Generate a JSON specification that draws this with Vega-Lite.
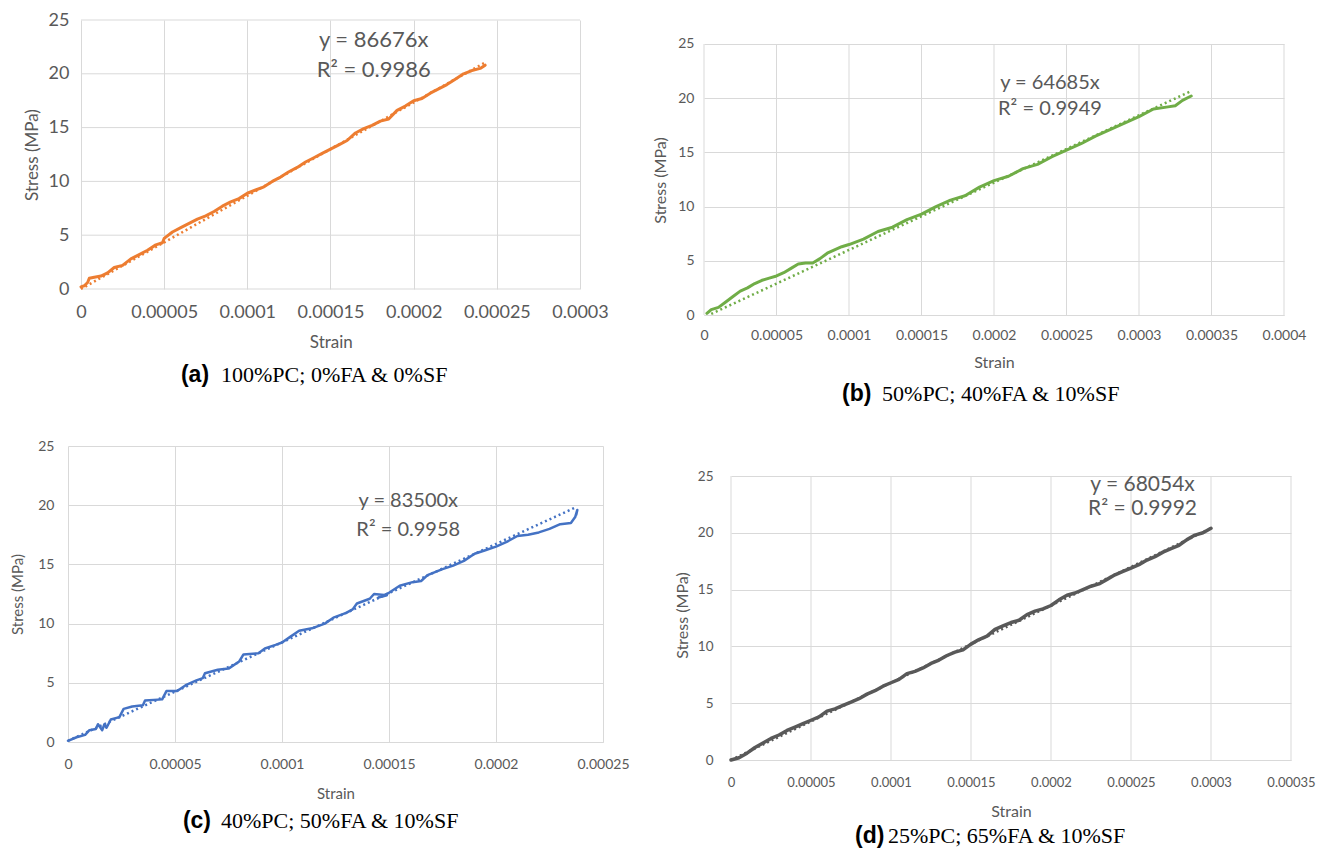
{
  "$schema": "https://vega.github.io/schema/vega-lite/v6.json",
  "padding": {"left": 10, "top": 11, "right": 0, "bottom": 0},
  "background": "white",
  "config": {
    "view": {"stroke": null},
    "font": "Lato",
    "axis": {"grid": true, "gridColor": "#d9d9d9", "gridWidth": 1, "ticks": false, "domain": false, "labelColor": "#595959", "titleColor": "#595959", "titleFontWeight": "normal", "labelFont": "Lato", "titleFont": "Lato", "labelFlush": false, "labelOverlap": false, "labelBound": false},
    "axisX": {"domain": true, "domainColor": "#d9d9d9"},
    "line": {"strokeJoin": "round", "strokeCap": "round"},
    "rule": {"color": "#d9d9d9", "strokeWidth": 1}
  },
  "datasets": {
    "a": [
      {"strain": 0, "stress": 0.2}, {"strain": 0.000002, "stress": 0.3}, {"strain": 0.000004, "stress": 0.6}, {"strain": 0.000005, "stress": 1.0}, {"strain": 0.000008, "stress": 1.1}, {"strain": 0.000012, "stress": 1.2}, {"strain": 0.000016, "stress": 1.5}, {"strain": 0.00002, "stress": 2.0}, {"strain": 0.000025, "stress": 2.2}, {"strain": 0.00003, "stress": 2.8}, {"strain": 0.000035, "stress": 3.2}, {"strain": 0.00004, "stress": 3.6}, {"strain": 0.000045, "stress": 4.1}, {"strain": 0.000049, "stress": 4.3}, {"strain": 0.00005, "stress": 4.7}, {"strain": 0.000055, "stress": 5.3}, {"strain": 0.00006, "stress": 5.7}, {"strain": 0.000065, "stress": 6.1}, {"strain": 0.00007, "stress": 6.5}, {"strain": 0.000075, "stress": 6.8}, {"strain": 0.00008, "stress": 7.2}, {"strain": 0.000085, "stress": 7.7}, {"strain": 0.00009, "stress": 8.1}, {"strain": 0.000095, "stress": 8.4}, {"strain": 0.0001, "stress": 8.9}, {"strain": 0.000105, "stress": 9.2}, {"strain": 0.00011, "stress": 9.5}, {"strain": 0.000115, "stress": 10.0}, {"strain": 0.00012, "stress": 10.4}, {"strain": 0.000125, "stress": 10.9}, {"strain": 0.00013, "stress": 11.3}, {"strain": 0.000135, "stress": 11.8}, {"strain": 0.00014, "stress": 12.2}, {"strain": 0.000145, "stress": 12.6}, {"strain": 0.00015, "stress": 13.0}, {"strain": 0.000155, "stress": 13.4}, {"strain": 0.00016, "stress": 13.8}, {"strain": 0.000165, "stress": 14.5}, {"strain": 0.00017, "stress": 14.9}, {"strain": 0.000175, "stress": 15.2}, {"strain": 0.00018, "stress": 15.6}, {"strain": 0.000185, "stress": 15.8}, {"strain": 0.00019, "stress": 16.6}, {"strain": 0.000195, "stress": 17.0}, {"strain": 0.0002, "stress": 17.5}, {"strain": 0.000205, "stress": 17.7}, {"strain": 0.00021, "stress": 18.2}, {"strain": 0.000215, "stress": 18.6}, {"strain": 0.00022, "stress": 19.0}, {"strain": 0.000225, "stress": 19.5}, {"strain": 0.00023, "stress": 20.0}, {"strain": 0.000235, "stress": 20.3}, {"strain": 0.00024, "stress": 20.5}, {"strain": 0.000243, "stress": 20.8}
    ],
    "a_trend": [{"strain": 0, "stress": 0}, {"strain": 0.000243, "stress": 21.06}],
    "a_eq": [{"strain": 0.000176, "stress": 23.1, "label": "y = 86676x"}, {"strain": 0.000176, "stress": 20.35, "label": "R² = 0.9986"}],
    "a_tag": [{"strain": 0.0000601, "stress": -8.64, "label": "(a)"}],
    "a_cap": [{"strain": 0.0000842, "stress": -8.64, "label": "100%PC; 0%FA & 0%SF"}],
    "a_grid": [{"stress": 0, "x0": 0, "x1": 0.0003}, {"stress": 5, "x0": 0, "x1": 0.0003}, {"stress": 10, "x0": 0, "x1": 0.0003}, {"stress": 15, "x0": 0, "x1": 0.0003}, {"stress": 20, "x0": 0, "x1": 0.0003}, {"stress": 25, "x0": 0, "x1": 0.0003}],
    "b": [
      {"strain": 0.000002, "stress": 0.15}, {"strain": 0.000005, "stress": 0.5}, {"strain": 0.00001, "stress": 0.7}, {"strain": 0.000015, "stress": 1.2}, {"strain": 0.00002, "stress": 1.7}, {"strain": 0.000025, "stress": 2.2}, {"strain": 0.00003, "stress": 2.5}, {"strain": 0.000035, "stress": 2.9}, {"strain": 0.00004, "stress": 3.2}, {"strain": 0.000045, "stress": 3.4}, {"strain": 0.00005, "stress": 3.6}, {"strain": 0.000055, "stress": 3.9}, {"strain": 0.00006, "stress": 4.3}, {"strain": 0.000065, "stress": 4.7}, {"strain": 0.00007, "stress": 4.8}, {"strain": 0.000075, "stress": 4.8}, {"strain": 0.00008, "stress": 5.2}, {"strain": 0.000085, "stress": 5.7}, {"strain": 0.00009, "stress": 6.0}, {"strain": 0.000095, "stress": 6.3}, {"strain": 0.0001, "stress": 6.5}, {"strain": 0.00011, "stress": 7.0}, {"strain": 0.00012, "stress": 7.7}, {"strain": 0.00013, "stress": 8.1}, {"strain": 0.00014, "stress": 8.8}, {"strain": 0.00015, "stress": 9.3}, {"strain": 0.00016, "stress": 10.0}, {"strain": 0.00017, "stress": 10.6}, {"strain": 0.00018, "stress": 11.0}, {"strain": 0.00019, "stress": 11.8}, {"strain": 0.0002, "stress": 12.4}, {"strain": 0.00021, "stress": 12.8}, {"strain": 0.00022, "stress": 13.5}, {"strain": 0.00023, "stress": 13.9}, {"strain": 0.00024, "stress": 14.6}, {"strain": 0.00025, "stress": 15.2}, {"strain": 0.00026, "stress": 15.8}, {"strain": 0.00027, "stress": 16.5}, {"strain": 0.00028, "stress": 17.1}, {"strain": 0.00029, "stress": 17.7}, {"strain": 0.0003, "stress": 18.3}, {"strain": 0.00031, "stress": 19.0}, {"strain": 0.00032, "stress": 19.2}, {"strain": 0.000325, "stress": 19.3}, {"strain": 0.00033, "stress": 19.8}, {"strain": 0.000336, "stress": 20.2}
    ],
    "b_trend": [{"strain": 0.000005, "stress": 0.1}, {"strain": 0.000335, "stress": 20.6}],
    "b_eq": [{"strain": 0.0002386, "stress": 21.4, "label": "y = 64685x"}, {"strain": 0.0002386, "stress": 19.0, "label": "R² = 0.9949"}],
    "b_tag": [{"strain": 0.0000952, "stress": -7.93, "label": "(b)"}],
    "b_cap": [{"strain": 0.0001228, "stress": -7.93, "label": "50%PC; 40%FA & 10%SF"}],
    "b_grid": [{"strain": 0, "y0": 0, "y1": 25}, {"strain": 0.00005, "y0": 0, "y1": 25}, {"strain": 0.0001, "y0": 0, "y1": 25}, {"strain": 0.00015, "y0": 0, "y1": 25}, {"strain": 0.0002, "y0": 0, "y1": 25}, {"strain": 0.00025, "y0": 0, "y1": 25}, {"strain": 0.0003, "y0": 0, "y1": 25}, {"strain": 0.00035, "y0": 0, "y1": 25}, {"strain": 0.0004, "y0": 0, "y1": 25}],
    "c": [
      {"i": 1, "strain": 0, "stress": 0.1}, {"i": 2, "strain": 0.000004, "stress": 0.4}, {"i": 3, "strain": 0.000008, "stress": 0.6}, {"i": 4, "strain": 0.00001, "stress": 1.0}, {"i": 5, "strain": 0.000013, "stress": 1.1}, {"i": 6, "strain": 0.000014, "stress": 1.5}, {"i": 7, "strain": 0.000016, "stress": 1.0}, {"i": 8, "strain": 0.000017, "stress": 1.5}, {"i": 9, "strain": 0.000018, "stress": 1.2}, {"i": 10, "strain": 0.00002, "stress": 1.9}, {"i": 11, "strain": 0.000024, "stress": 2.1}, {"i": 12, "strain": 0.000026, "stress": 2.8}, {"i": 13, "strain": 0.00003, "stress": 3.0}, {"i": 14, "strain": 0.000035, "stress": 3.1}, {"i": 15, "strain": 0.000036, "stress": 3.5}, {"i": 16, "strain": 0.000044, "stress": 3.6}, {"i": 17, "strain": 0.000046, "stress": 4.3}, {"i": 18, "strain": 0.000051, "stress": 4.3}, {"i": 19, "strain": 0.000055, "stress": 4.8}, {"i": 20, "strain": 0.00006, "stress": 5.2}, {"i": 21, "strain": 0.000063, "stress": 5.4}, {"i": 22, "strain": 0.000064, "stress": 5.8}, {"i": 23, "strain": 0.00007, "stress": 6.1}, {"i": 24, "strain": 0.000075, "stress": 6.2}, {"i": 25, "strain": 0.00008, "stress": 6.8}, {"i": 26, "strain": 0.000082, "stress": 7.4}, {"i": 27, "strain": 0.000089, "stress": 7.5}, {"i": 28, "strain": 0.000092, "stress": 7.9}, {"i": 29, "strain": 0.000097, "stress": 8.2}, {"i": 30, "strain": 0.0001, "stress": 8.4}, {"i": 31, "strain": 0.000104, "stress": 8.9}, {"i": 32, "strain": 0.000108, "stress": 9.4}, {"i": 33, "strain": 0.000114, "stress": 9.6}, {"i": 34, "strain": 0.00012, "stress": 10.0}, {"i": 35, "strain": 0.000124, "stress": 10.5}, {"i": 36, "strain": 0.00013, "stress": 10.9}, {"i": 37, "strain": 0.000133, "stress": 11.2}, {"i": 38, "strain": 0.000135, "stress": 11.7}, {"i": 39, "strain": 0.000141, "stress": 12.1}, {"i": 40, "strain": 0.000143, "stress": 12.5}, {"i": 41, "strain": 0.000149, "stress": 12.4}, {"i": 42, "strain": 0.000145, "stress": 12.2}, {"i": 43, "strain": 0.00015, "stress": 12.6}, {"i": 44, "strain": 0.000155, "stress": 13.2}, {"i": 45, "strain": 0.000161, "stress": 13.5}, {"i": 46, "strain": 0.000165, "stress": 13.6}, {"i": 47, "strain": 0.000168, "stress": 14.1}, {"i": 48, "strain": 0.000175, "stress": 14.6}, {"i": 49, "strain": 0.00018, "stress": 14.9}, {"i": 50, "strain": 0.000185, "stress": 15.3}, {"i": 51, "strain": 0.00019, "stress": 15.9}, {"i": 52, "strain": 0.000195, "stress": 16.2}, {"i": 53, "strain": 0.0002, "stress": 16.5}, {"i": 54, "strain": 0.000205, "stress": 16.9}, {"i": 55, "strain": 0.00021, "stress": 17.4}, {"i": 56, "strain": 0.000215, "stress": 17.5}, {"i": 57, "strain": 0.00022, "stress": 17.7}, {"i": 58, "strain": 0.000225, "stress": 18.0}, {"i": 59, "strain": 0.00023, "stress": 18.4}, {"i": 60, "strain": 0.000235, "stress": 18.5}, {"i": 61, "strain": 0.000237, "stress": 19.0}, {"i": 62, "strain": 0.000238, "stress": 19.6}, {"i": 63, "strain": 0.0002375, "stress": 19.2}
    ],
    "c_trend": [{"strain": 0, "stress": 0.1}, {"strain": 0.000237, "stress": 19.8}],
    "c_eq": [{"strain": 0.000159, "stress": 20.35, "label": "y = 83500x"}, {"strain": 0.000159, "stress": 17.9, "label": "R² = 0.9958"}],
    "c_tag": [{"strain": 0.0000537, "stress": -7.26, "label": "(c)"}],
    "c_cap": [{"strain": 0.0000715, "stress": -7.26, "label": "40%PC; 50%FA & 10%SF"}],
    "d": [
      {"strain": 0, "stress": 0}, {"strain": 0.000005, "stress": 0.2}, {"strain": 0.00001, "stress": 0.6}, {"strain": 0.000015, "stress": 1.1}, {"strain": 0.00002, "stress": 1.5}, {"strain": 0.000025, "stress": 1.9}, {"strain": 0.00003, "stress": 2.2}, {"strain": 0.000035, "stress": 2.6}, {"strain": 0.00004, "stress": 2.9}, {"strain": 0.000045, "stress": 3.2}, {"strain": 0.00005, "stress": 3.5}, {"strain": 0.000055, "stress": 3.8}, {"strain": 0.00006, "stress": 4.3}, {"strain": 0.000065, "stress": 4.5}, {"strain": 0.00007, "stress": 4.8}, {"strain": 0.000075, "stress": 5.1}, {"strain": 0.00008, "stress": 5.4}, {"strain": 0.000085, "stress": 5.8}, {"strain": 0.00009, "stress": 6.1}, {"strain": 0.000095, "stress": 6.5}, {"strain": 0.0001, "stress": 6.8}, {"strain": 0.000105, "stress": 7.1}, {"strain": 0.00011, "stress": 7.6}, {"strain": 0.000115, "stress": 7.8}, {"strain": 0.00012, "stress": 8.1}, {"strain": 0.000125, "stress": 8.5}, {"strain": 0.00013, "stress": 8.8}, {"strain": 0.000135, "stress": 9.2}, {"strain": 0.00014, "stress": 9.5}, {"strain": 0.000145, "stress": 9.7}, {"strain": 0.00015, "stress": 10.2}, {"strain": 0.000155, "stress": 10.6}, {"strain": 0.00016, "stress": 10.9}, {"strain": 0.000165, "stress": 11.5}, {"strain": 0.00017, "stress": 11.8}, {"strain": 0.000175, "stress": 12.1}, {"strain": 0.00018, "stress": 12.3}, {"strain": 0.000185, "stress": 12.8}, {"strain": 0.00019, "stress": 13.1}, {"strain": 0.000195, "stress": 13.3}, {"strain": 0.0002, "stress": 13.6}, {"strain": 0.000205, "stress": 14.1}, {"strain": 0.00021, "stress": 14.5}, {"strain": 0.000215, "stress": 14.7}, {"strain": 0.00022, "stress": 15.0}, {"strain": 0.000225, "stress": 15.3}, {"strain": 0.00023, "stress": 15.5}, {"strain": 0.000235, "stress": 15.9}, {"strain": 0.00024, "stress": 16.3}, {"strain": 0.000245, "stress": 16.6}, {"strain": 0.00025, "stress": 16.9}, {"strain": 0.000255, "stress": 17.2}, {"strain": 0.00026, "stress": 17.6}, {"strain": 0.000265, "stress": 17.9}, {"strain": 0.00027, "stress": 18.3}, {"strain": 0.000275, "stress": 18.6}, {"strain": 0.00028, "stress": 18.9}, {"strain": 0.000285, "stress": 19.4}, {"strain": 0.00029, "stress": 19.8}, {"strain": 0.000295, "stress": 20.0}, {"strain": 0.0003, "stress": 20.4}
    ],
    "d_trend": [{"strain": 0, "stress": 0}, {"strain": 0.0003, "stress": 20.4}],
    "d_eq": [{"strain": 0.0002572, "stress": 24.2, "label": "y = 68054x"}, {"strain": 0.0002572, "stress": 22.1, "label": "R² = 0.9992"}],
    "d_tag": [{"strain": 0.0000775, "stress": -7.31, "label": "(d)"}],
    "d_cap": [{"strain": 0.0000981, "stress": -7.31, "label": "25%PC; 65%FA & 10%SF"}],
    "d_grid": [{"strain": 0, "y0": 0, "y1": 25}, {"strain": 0.00005, "y0": 0, "y1": 25}, {"strain": 0.0001, "y0": 0, "y1": 25}, {"strain": 0.00015, "y0": 0, "y1": 25}, {"strain": 0.0002, "y0": 0, "y1": 25}, {"strain": 0.00025, "y0": 0, "y1": 25}, {"strain": 0.0003, "y0": 0, "y1": 25}, {"strain": 0.00035, "y0": 0, "y1": 25}]
  },
  "concat": [
    {
      "concat": [
        {
          "width": 512, "height": 269,
          "encoding": {
            "x": {"field": "strain", "type": "quantitative", "scale": {"domain": [-0.0000078, 0.0003], "nice": false, "zero": false}, "axis": {"title": "Strain", "values": [0, 0.00005, 0.0001, 0.00015, 0.0002, 0.00025, 0.0003], "format": "~f", "domain": false, "labelFontSize": 18, "labelPadding": 14, "titleFontSize": 17, "titlePadding": 13, "titleX": 262.8}},
            "y": {"field": "stress", "type": "quantitative", "scale": {"domain": [0, 25], "nice": false}, "axis": {"title": "Stress (MPa)", "values": [0, 5, 10, 15, 20, 25], "grid": false, "labelFontSize": 18, "labelPadding": -1, "titleFontSize": 17, "titlePadding": 7}}
          },
          "layer": [
            {"data": {"name": "a_grid"}, "mark": {"type": "rule"}, "encoding": {"x": {"field": "x0", "type": "quantitative", "title": "Strain"}, "x2": {"field": "x1"}}},
            {"data": {"name": "a"}, "mark": {"type": "line", "color": "#ED7D31", "strokeWidth": 3}},
            {"data": {"name": "a_trend"}, "mark": {"type": "line", "color": "#ED7D31", "strokeWidth": 2.5, "strokeDash": [2, 3], "strokeCap": "butt"}},
            {"data": {"name": "a_eq"}, "mark": {"type": "text", "font": "Lato", "fontSize": 22, "color": "#595959", "align": "center", "baseline": "middle"}, "encoding": {"text": {"field": "label"}}},
            {"data": {"name": "a_tag"}, "mark": {"type": "text", "font": "Liberation Sans", "fontWeight": "bold", "fontSize": 23, "color": "black", "align": "left", "baseline": "alphabetic"}, "encoding": {"text": {"field": "label"}}},
            {"data": {"name": "a_cap"}, "mark": {"type": "text", "font": "Liberation Serif", "fontSize": 22, "color": "black", "align": "left", "baseline": "alphabetic"}, "encoding": {"text": {"field": "label"}}}
          ]
        },
        {
          "width": 580, "height": 295,
          "encoding": {
            "x": {"field": "strain", "type": "quantitative", "scale": {"domain": [0, 0.0004], "nice": false}, "axis": {"title": "Strain", "values": [0, 0.00005, 0.0001, 0.00015, 0.0002, 0.00025, 0.0003, 0.00035, 0.0004], "format": "~f", "grid": false, "labelFontSize": 14, "labelPadding": 13, "titleFontSize": 16, "titlePadding": 12}},
            "y": {"field": "stress", "type": "quantitative", "scale": {"domain": [0, 27.214], "nice": false}, "axis": {"title": "Stress (MPa)", "values": [0, 5, 10, 15, 20, 25], "labelFontSize": 14, "labelPadding": 10, "titleFontSize": 16, "titlePadding": 9, "titleY": 160}}
          },
          "layer": [
            {"data": {"name": "b_grid"}, "mark": {"type": "rule"}, "encoding": {"y": {"field": "y0", "type": "quantitative", "title": "Stress (MPa)"}, "y2": {"field": "y1"}}},
            {"data": {"name": "b"}, "mark": {"type": "line", "color": "#70AD47", "strokeWidth": 3}},
            {"data": {"name": "b_trend"}, "mark": {"type": "line", "color": "#70AD47", "strokeWidth": 2.5, "strokeDash": [2, 3], "strokeCap": "butt"}},
            {"data": {"name": "b_eq"}, "mark": {"type": "text", "font": "Lato", "fontSize": 20, "color": "#595959", "align": "center", "baseline": "middle"}, "encoding": {"text": {"field": "label"}}},
            {"data": {"name": "b_tag"}, "mark": {"type": "text", "font": "Liberation Sans", "fontWeight": "bold", "fontSize": 23, "color": "black", "align": "left", "baseline": "alphabetic"}, "encoding": {"text": {"field": "label"}}},
            {"data": {"name": "b_cap"}, "mark": {"type": "text", "font": "Liberation Serif", "fontSize": 22, "color": "black", "align": "left", "baseline": "alphabetic"}, "encoding": {"text": {"field": "label"}}}
          ]
        }
      ],
      "columns": 2,
      "align": "none",
      "spacing": 43
    },
    {
      "concat": [
        {
          "width": 535, "height": 296,
          "encoding": {
            "x": {"field": "strain", "type": "quantitative", "scale": {"domain": [0, 0.00025], "nice": false}, "axis": {"title": "Strain", "values": [0, 0.00005, 0.0001, 0.00015, 0.0002, 0.00025], "format": "~f", "labelFontSize": 14, "labelPadding": 15, "titleFontSize": 15, "titlePadding": 15}},
            "y": {"field": "stress", "type": "quantitative", "scale": {"domain": [0, 25], "nice": false}, "axis": {"title": "Stress (MPa)", "values": [0, 5, 10, 15, 20, 25], "labelFontSize": 14, "labelPadding": 14, "titleFontSize": 15, "titlePadding": 12}}
          },
          "layer": [
            {"data": {"name": "c"}, "mark": {"type": "line", "color": "#4472C4", "strokeWidth": 2.5}, "encoding": {"order": {"field": "i", "type": "quantitative"}}},
            {"data": {"name": "c_trend"}, "mark": {"type": "line", "color": "#4472C4", "strokeWidth": 2.5, "strokeDash": [2, 3], "strokeCap": "butt"}},
            {"data": {"name": "c_eq"}, "mark": {"type": "text", "font": "Lato", "fontSize": 20, "color": "#595959", "align": "center", "baseline": "middle"}, "encoding": {"text": {"field": "label"}}},
            {"data": {"name": "c_tag"}, "mark": {"type": "text", "font": "Liberation Sans", "fontWeight": "bold", "fontSize": 23, "color": "black", "align": "left", "baseline": "alphabetic"}, "encoding": {"text": {"field": "label"}}},
            {"data": {"name": "c_cap"}, "mark": {"type": "text", "font": "Liberation Serif", "fontSize": 22, "color": "black", "align": "left", "baseline": "alphabetic"}, "encoding": {"text": {"field": "label"}}}
          ]
        },
        {
          "width": 560, "height": 314,
          "encoding": {
            "x": {"field": "strain", "type": "quantitative", "scale": {"domain": [0, 0.00035], "nice": false}, "axis": {"title": "Strain", "values": [0, 0.00005, 0.0001, 0.00015, 0.0002, 0.00025, 0.0003, 0.00035], "format": "~f", "grid": false, "labelFontSize": 13, "labelPadding": 16, "titleFontSize": 16, "titlePadding": 14}},
            "y": {"field": "stress", "type": "quantitative", "scale": {"domain": [0, 27.641], "nice": false}, "axis": {"title": "Stress (MPa)", "values": [0, 5, 10, 15, 20, 25], "labelFontSize": 13.5, "labelPadding": 18, "titleFontSize": 16, "titlePadding": 7, "titleY": 169}}
          },
          "layer": [
            {"data": {"name": "d_grid"}, "mark": {"type": "rule"}, "encoding": {"y": {"field": "y0", "type": "quantitative", "title": "Stress (MPa)"}, "y2": {"field": "y1"}}},
            {"data": {"name": "d"}, "mark": {"type": "line", "color": "#595959", "strokeWidth": 3.5}},
            {"data": {"name": "d_trend"}, "mark": {"type": "line", "color": "#595959", "strokeWidth": 2.5, "strokeDash": [2, 3], "strokeCap": "butt"}},
            {"data": {"name": "d_eq"}, "mark": {"type": "text", "font": "Lato", "fontSize": 21, "color": "#595959", "align": "center", "baseline": "middle"}, "encoding": {"text": {"field": "label"}}},
            {"data": {"name": "d_tag"}, "mark": {"type": "text", "font": "Liberation Sans", "fontWeight": "bold", "fontSize": 23, "color": "black", "align": "left", "baseline": "alphabetic"}, "encoding": {"text": {"field": "label"}}},
            {"data": {"name": "d_cap"}, "mark": {"type": "text", "font": "Liberation Serif", "fontSize": 22, "color": "black", "align": "left", "baseline": "alphabetic"}, "encoding": {"text": {"field": "label"}}}
          ]
        }
      ],
      "columns": 2,
      "align": "none",
      "spacing": 44
    }
  ],
  "columns": 1,
  "align": "none",
  "spacing": 33
}
